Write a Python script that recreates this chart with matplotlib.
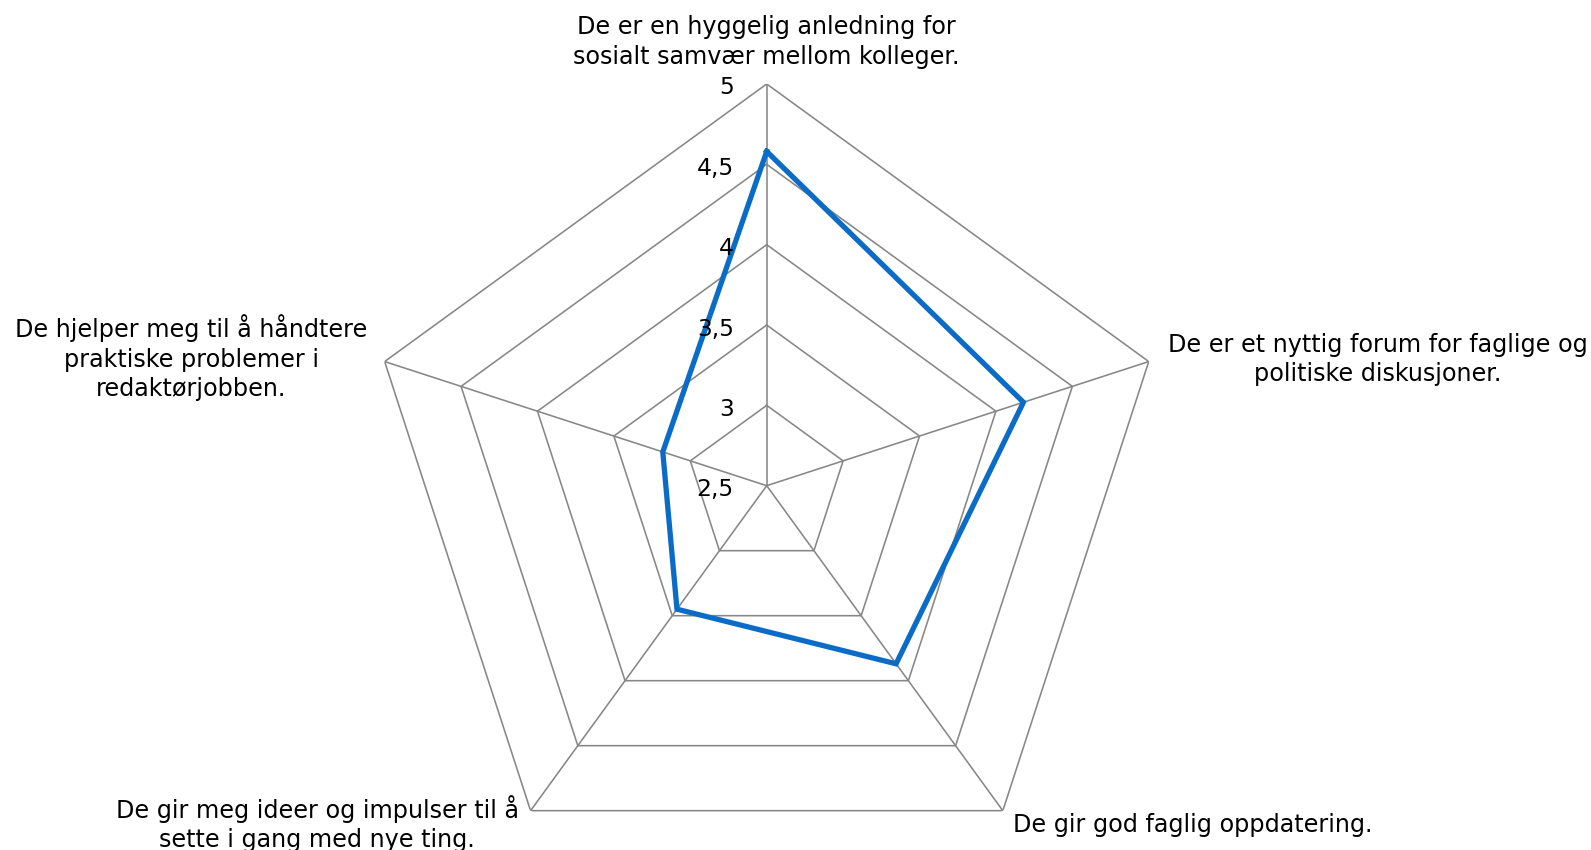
import numpy as np
import matplotlib
matplotlib.use("Agg")
import matplotlib.pyplot as plt

# statements, clockwise from the top
categories = [
    "De er en hyggelig anledning for\nsosialt samvær mellom kolleger.",
    "De er et nyttig forum for faglige og\npolitiske diskusjoner.",
    "De gir god faglig oppdatering.",
    "De gir meg ideer og impulser til å\nsette i gang med nye ting.",
    "De hjelper meg til å håndtere\npraktiske problemer i\nredaktørjobben.",
]
scores = [4.58, 4.18, 3.87, 3.45, 3.18]
levels = [2.5, 3.0, 3.5, 4.0, 4.5, 5.0]

GRID = "#878787"
BLUE = "#0B6CC8"
FS = 17.2

fig = plt.figure(figsize=(15.91, 8.5), dpi=100)
ax = fig.add_axes([0.2294, -0.044, 0.505, 0.9452], projection="polar")
ax.set_theta_zero_location("N")
ax.set_theta_direction(-1)
ax.set_ylim(levels[0], levels[-1])
ax.grid(False)
ax.spines["polar"].set_visible(False)
ax.set_xticks([])
ax.set_yticks([])
ax.patch.set_visible(False)

angles = np.arange(len(categories)) * 2 * np.pi / len(categories)
closed = np.append(angles, angles[0])

# pentagon grid + spokes
for lvl in levels[1:]:
    ax.plot(closed, [lvl] * len(closed), color=GRID, lw=1.15, zorder=1)
for a in angles:
    ax.plot([a, a], [levels[0], levels[-1]], color=GRID, lw=1.15, zorder=1)

ax.plot(closed, scores + scores[:1], color=BLUE, lw=3.8, zorder=3,
        solid_joinstyle="miter")

# value labels along the top spoke
for lvl in levels:
    ax.annotate(f"{lvl:g}".replace(".", ","), xy=(0, lvl), xytext=(-33, -4),
                textcoords="offset pixels", ha="right", va="center",
                fontsize=16.8, color="black", annotation_clip=False)

# category labels: (dx, dy, ha, va) in pixels from the outer vertex
placement = [
    (0, 15, "center", "bottom"),
    (19, 2, "left", "center"),
    (10, -2, "left", "top"),
    (-12, 16, "right", "top"),
    (-17, 4, "right", "center"),
]
for a, text, (dx, dy, ha, va) in zip(angles, categories, placement):
    ax.annotate(text, xy=(a, levels[-1]), xytext=(dx, dy),
                textcoords="offset pixels", ha=ha, va=va,
                multialignment="center", fontsize=FS, color="black",
                linespacing=1.3, annotation_clip=False)

fig.savefig("out.png", dpi=100)
